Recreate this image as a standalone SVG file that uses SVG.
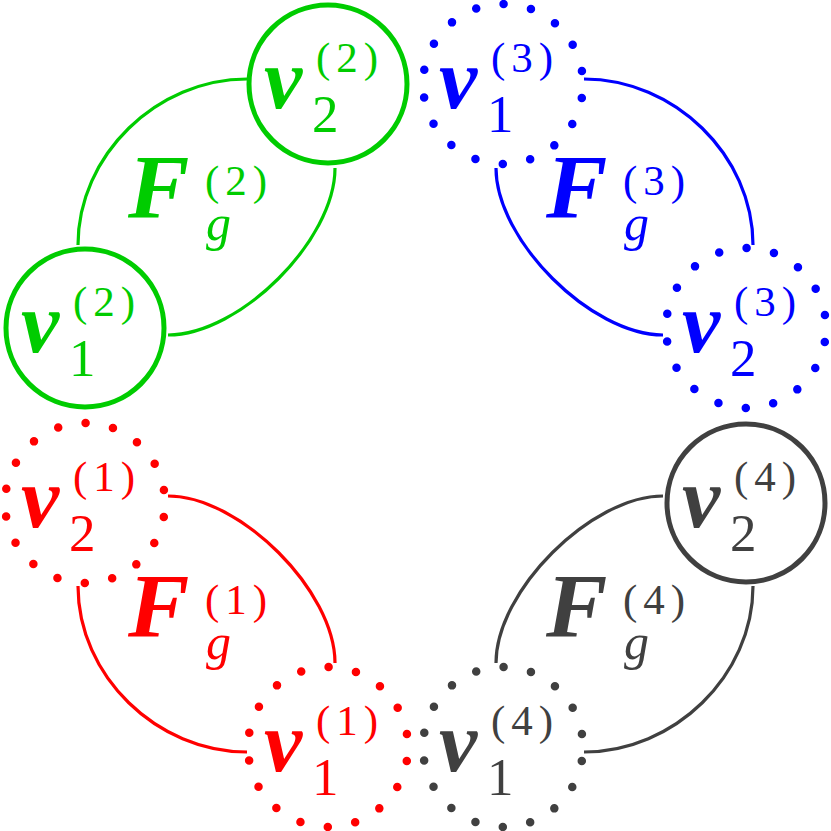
<svg xmlns="http://www.w3.org/2000/svg" width="831" height="831" viewBox="0 0 831 831" font-family="Liberation Serif, serif">
<style>
  .solid { fill: none; stroke-width: 5; }
  .dotted { fill: none; stroke-width: 8.5; stroke-linecap: round; stroke-dasharray: 0 27.925; stroke-dashoffset: 13.96; }
  .edge { fill: none; stroke-width: 3.2; }
  text { stroke: none; }
  .v { font-style: italic; font-weight: bold; font-size: 86px; }
  .sub { font-size: 53px; }
  .sup { font-size: 43px; letter-spacing: 6px; font-style: normal; font-weight: normal; }
  .F { font-style: italic; font-weight: bold; font-size: 92px; }
  .g { font-style: italic; font-weight: normal; font-size: 50px; letter-spacing: 0; }
</style>
<rect width="831" height="831" fill="#ffffff"/>

<g id="connectors">
  <g stroke="#00cc00" class="edge">
    <path d="M247,79 C157,79 78,155 78,245"/>
    <path d="M335,168 C335,240 240,335 168,335"/>
  </g>
  <g stroke="#0000ff" class="edge">
    <path d="M584,79 C674,79 753,155 753,245"/>
    <path d="M496,168 C496,240 591,335 663,335"/>
  </g>
  <g stroke="#ff0000" class="edge">
    <path d="M247,752 C157,752 78,676 78,586"/>
    <path d="M335,663 C335,591 240,496 168,496"/>
  </g>
  <g stroke="#404040" class="edge">
    <path d="M584,752 C674,752 753,676 753,586"/>
    <path d="M496,663 C496,591 591,496 663,496"/>
  </g>
</g>

<!-- green -->
<g id="v1_2" fill="#00cc00">
  <circle cx="85" cy="328" r="79" class="solid" stroke="#00cc00"/>
  <text class="v" x="21" y="352">v</text>
  <text class="sub" x="69" y="376">1</text>
  <text class="sup" x="73" y="316">(2)</text>
</g>
<g id="v2_2" fill="#00cc00">
  <circle cx="328" cy="84" r="79" class="solid" stroke="#00cc00"/>
  <text class="v" x="264" y="108">v</text>
  <text class="sub" x="312" y="132">2</text>
  <text class="sup" x="316" y="72">(2)</text>
</g>
<g id="F_2" fill="#00cc00">
  <text class="F" x="128" y="218">F</text>
  <text><tspan class="sup" x="205" y="195">(2)</tspan><tspan class="g" x="206" y="240">g</tspan></text>
</g>

<!-- blue -->
<g id="v1_3" fill="#0000ff">
  <circle cx="503" cy="84" r="80" class="dotted" stroke="#0000ff"/>
  <text class="v" x="439" y="108">v</text>
  <text class="sub" x="487" y="132">1</text>
  <text class="sup" x="491" y="72">(3)</text>
</g>
<g id="v2_3" fill="#0000ff">
  <circle cx="746" cy="328" r="80" class="dotted" stroke="#0000ff"/>
  <text class="v" x="682" y="352">v</text>
  <text class="sub" x="730" y="376">2</text>
  <text class="sup" x="734" y="316">(3)</text>
</g>
<g id="F_3" fill="#0000ff">
  <text class="F" x="546" y="218">F</text>
  <text><tspan class="sup" x="623" y="195">(3)</tspan><tspan class="g" x="624" y="240">g</tspan></text>
</g>

<!-- red -->
<g id="v2_1" fill="#ff0000">
  <circle cx="85" cy="503" r="80" class="dotted" stroke="#ff0000"/>
  <text class="v" x="21" y="527">v</text>
  <text class="sub" x="69" y="551">2</text>
  <text class="sup" x="73" y="491">(1)</text>
</g>
<g id="v1_1" fill="#ff0000">
  <circle cx="328" cy="747" r="80" class="dotted" stroke="#ff0000"/>
  <text class="v" x="264" y="771">v</text>
  <text class="sub" x="312" y="795">1</text>
  <text class="sup" x="316" y="735">(1)</text>
</g>
<g id="F_1" fill="#ff0000">
  <text class="F" x="128" y="637">F</text>
  <text><tspan class="sup" x="205" y="614">(1)</tspan><tspan class="g" x="206" y="659">g</tspan></text>
</g>

<!-- gray -->
<g id="v1_4" fill="#404040">
  <circle cx="503" cy="747" r="80" class="dotted" stroke="#404040"/>
  <text class="v" x="439" y="771">v</text>
  <text class="sub" x="487" y="795">1</text>
  <text class="sup" x="491" y="735">(4)</text>
</g>
<g id="v2_4" fill="#404040">
  <circle cx="746" cy="503" r="79" class="solid" stroke="#404040"/>
  <text class="v" x="682" y="527">v</text>
  <text class="sub" x="730" y="551">2</text>
  <text class="sup" x="734" y="491">(4)</text>
</g>
<g id="F_4" fill="#404040">
  <text class="F" x="546" y="637">F</text>
  <text><tspan class="sup" x="623" y="614">(4)</tspan><tspan class="g" x="624" y="659">g</tspan></text>
</g>
</svg>
